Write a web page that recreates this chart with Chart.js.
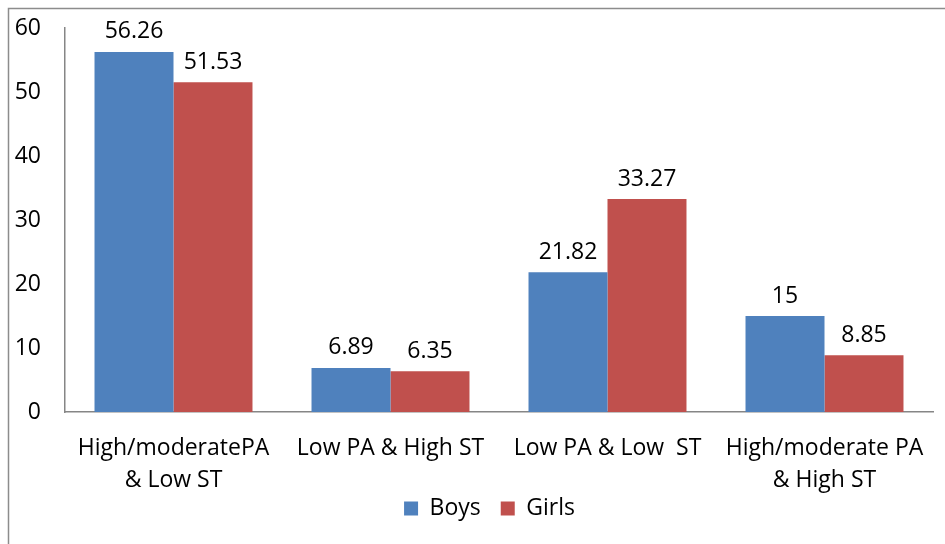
<!DOCTYPE html>
<html>
<head>
<meta charset="utf-8">
<script src="https://cdn.jsdelivr.net/npm/chart.js@4/dist/chart.umd.min.js"></script>
<style>
html,body{margin:0;padding:0;background:#fff;}
#wrap{width:945px;height:544px;position:relative;}
</style>
</head>
<body>
<div id="wrap"><canvas id="c" width="945" height="544"></canvas></div>
<script>
const categories = [["High/moderatePA", "& Low ST"], ["Low PA & High ST"], ["Low PA & Low  ST"], ["High/moderate PA", "& High ST"]];
const seriesNames = ["Boys", "Girls"];
const boys = [56.26, 6.89, 21.82, 15];
const girls = [51.53, 6.35, 33.27, 8.85];
const yTicks = [0, 10, 20, 30, 40, 50, 60];

const FONT = "'Open Sans', sans-serif";
const FS = 23;
const LEG_DX = 23, LEG_DY = -23;

const framePlugin = {
  id: 'frame',
  beforeDraw(chart) {
    const ctx = chart.ctx;
    ctx.save();
    ctx.strokeStyle = '#8c8c8c';
    ctx.lineWidth = 1.5;
    ctx.beginPath();
    ctx.moveTo(8.5, chart.height);
    ctx.lineTo(8.5, 8.5);
    ctx.lineTo(chart.width, 8.5);
    ctx.stroke();
    ctx.restore();
    const lg = chart.legend;
    if (lg) { lg.left += LEG_DX; lg.right += LEG_DX; lg.top += LEG_DY; lg.bottom += LEG_DY; }
  },
  afterDraw(chart) {
    const lg = chart.legend;
    if (lg) { lg.left -= LEG_DX; lg.right -= LEG_DX; lg.top -= LEG_DY; lg.bottom -= LEG_DY; }
  }
};

const valueLabels = {
  id: 'valueLabels',
  afterDatasetsDraw(chart) {
    const ctx = chart.ctx;
    ctx.save();
    ctx.font = FS + "px " + FONT;
    ctx.fillStyle = '#000';
    ctx.textAlign = 'center';
    ctx.textBaseline = 'middle';
    chart.data.datasets.forEach((ds, i) => {
      const meta = chart.getDatasetMeta(i);
      meta.data.forEach((bar, j) => {
        ctx.fillText(String(ds.data[j]), bar.x, bar.y - 20);
      });
    });
    ctx.restore();
  }
};

new Chart(document.getElementById('c'), {
  type: 'bar',
  data: {
    labels: categories,
    datasets: [
      { label: seriesNames[0], data: boys, backgroundColor: '#4F81BD', borderWidth: 0 },
      { label: seriesNames[1], data: girls, backgroundColor: '#C0504D', borderWidth: 0 }
    ]
  },
  options: {
    responsive: false,
    animation: false,
    devicePixelRatio: 1,
    layout: { padding: { left: 0, right: 12, top: 28, bottom: 0 } },
    datasets: { bar: { categoryPercentage: 0.728, barPercentage: 1 } },
    plugins: {
      legend: {
        position: 'bottom',
        maxHeight: 44,
        labels: {
          font: { family: FONT, size: FS },
          color: '#000',
          boxWidth: 14,
          boxHeight: 14,
          padding: 20
        }
      },
      tooltip: { enabled: false }
    },
    scales: {
      x: {
        grid: { display: false, drawTicks: false },
        border: { display: true, color: '#868686', width: 1.5 },
        ticks: {
          color: '#000',
          font: { family: FONT, size: FS, lineHeight: 1.39 },
          padding: 20,
          maxRotation: 0,
          autoSkip: false
        },
        afterFit(axis) { axis.height = 88; }
      },
      y: {
        min: 0,
        max: 60,
        afterBuildTicks(axis) { axis.ticks = yTicks.map(v => ({ value: v })); },
        grid: { display: false, drawTicks: false },
        border: { display: true, color: '#868686', width: 1.5 },
        ticks: {
          color: '#000',
          font: { family: FONT, size: FS },
          padding: 24
        },
        afterFit(axis) { axis.width = 65; axis.paddingTop = 0; axis.paddingBottom = 0; }
      }
    }
  },
  plugins: [framePlugin, valueLabels]
});
</script>
</body>
</html>
